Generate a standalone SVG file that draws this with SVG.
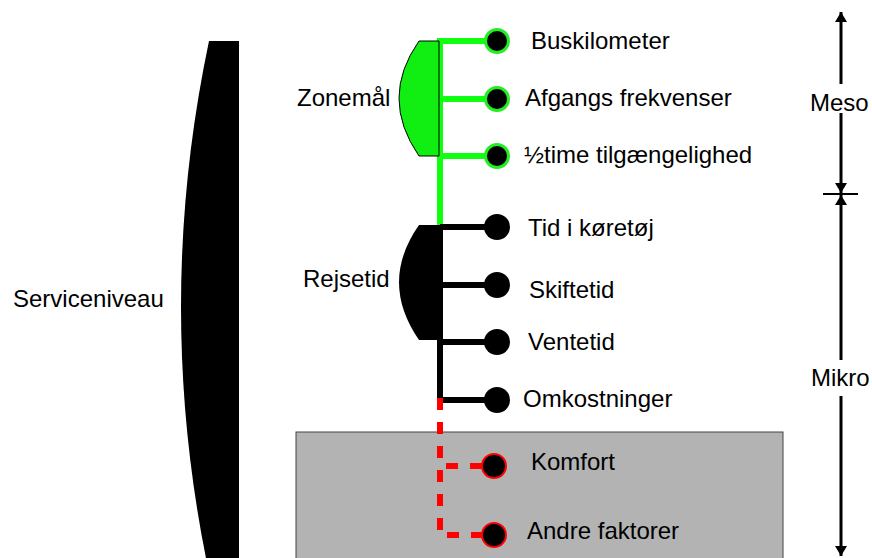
<svg xmlns="http://www.w3.org/2000/svg" width="872" height="558" viewBox="0 0 872 558">
  <style>
    text { font-family: "Liberation Sans", Arial, sans-serif; font-size: 24px; fill: #000; }
    .g { stroke: #11ff11; stroke-width: 6; fill: none; }
    .k { stroke: #000; stroke-width: 6; fill: none; }
    .r { stroke: #ff0000; stroke-width: 6; fill: none; stroke-dasharray: 12 12; }
    .dotg { fill: #000; stroke: #22ee22; stroke-width: 3; }
    .dotk { fill: #000; }
    .dotr { fill: #000; stroke: #ff0000; stroke-width: 2; }
    .axis { stroke: #000; stroke-width: 3; fill: none; }
  </style>
  <defs>
    <marker id="tip" viewBox="0 0 10 12" refX="10" refY="6" markerWidth="10" markerHeight="12" markerUnits="userSpaceOnUse" orient="auto">
      <path d="M0,0 L10,6 L0,12 Z" fill="#000"/>
    </marker>
  </defs>

  <!-- shaded area for the remaining factors -->
  <rect id="other-area" x="296" y="432" width="487" height="140" fill="#b3b3b3" stroke="#444" stroke-width="1"/>

  <!-- big bracket -->
  <g id="serviceniveau">
    <path d="M239,41 L209,41 Q153,307 209,573 L239,573 Z" fill="#000"/>
    <text x="13" y="307">Serviceniveau</text>
  </g>

  <!-- connectors -->
  <g id="connectors">
    <path class="g" d="M440,38 V227 M440,41 H497 M440,99 H497 M440,156 H497"/>
    <path class="k" d="M440,227 V398 M440,227 H497 M440,285 H497 M440,342 H497 M440,400 H497"/>
    <path class="r" d="M440,398 V535 H482"/>
    <path class="r" d="M446,466 H482"/>
  </g>

  <g id="zonemaal">
    <path d="M439,41 L419,41 Q379,98 419,156 L439,156 Z" fill="#11ee11" stroke="#000" stroke-width="1"/>
    <text x="297" y="106">Zonemål</text>
  </g>
  <g id="rejsetid">
    <path d="M442,225 L419,225 Q379,282 419,340 L442,340 Z" fill="#000"/>
    <text x="303" y="287">Rejsetid</text>
  </g>

  <g id="buskilometer"><circle class="dotg" cx="497" cy="41" r="11.5"/><text x="531" y="49">Buskilometer</text></g>
  <g id="afgangs"><circle class="dotg" cx="497" cy="99" r="11.5"/><text x="525" y="106">Afgangs frekvenser</text></g>
  <g id="halvtime"><circle class="dotg" cx="497" cy="156" r="11.5"/><text x="524" y="163">½time tilgængelighed</text></g>

  <g id="tid"><circle class="dotk" cx="497" cy="227" r="13"/><text x="528" y="236">Tid i køretøj</text></g>
  <g id="skiftetid"><circle class="dotk" cx="497" cy="285" r="13"/><text x="529" y="298">Skiftetid</text></g>
  <g id="ventetid"><circle class="dotk" cx="497" cy="342" r="13"/><text x="528" y="350">Ventetid</text></g>
  <g id="omkostninger"><circle class="dotk" cx="497" cy="400" r="13"/><text x="523" y="407">Omkostninger</text></g>

  <g id="komfort"><circle class="dotr" cx="494" cy="466" r="12"/><text x="531" y="470">Komfort</text></g>
  <g id="andre"><circle class="dotr" cx="494" cy="535" r="12"/><text x="527" y="539">Andre faktorer</text></g>

  <!-- level scale -->
  <g id="meso">
    <path class="axis" d="M841,84 V12" marker-end="url(#tip)"/>
    <path class="axis" d="M841,113 V193" marker-end="url(#tip)"/>
    <text x="810" y="111">Meso</text>
  </g>
  <line x1="823" y1="194" x2="858" y2="194" stroke="#000" stroke-width="2"/>
  <g id="mikro">
    <path class="axis" d="M841,360 V195" marker-end="url(#tip)"/>
    <path class="axis" d="M841,396 V556" marker-end="url(#tip)"/>
    <text x="811" y="386">Mikro</text>
  </g>
</svg>
